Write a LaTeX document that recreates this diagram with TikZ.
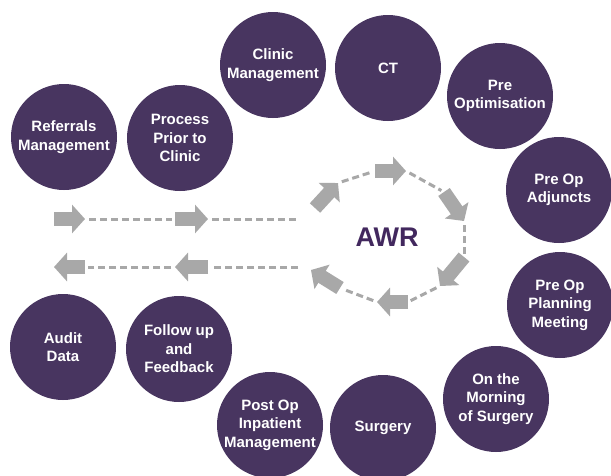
\documentclass[tikz,border=0pt]{standalone}
\usepackage{fontspec}
\setmainfont{Liberation Sans}
\usetikzlibrary{arrows.meta}
\definecolor{awrpurple}{RGB}{72,53,96}
\definecolor{awrtext}{RGB}{66,40,94}
\definecolor{arrowgrey}{RGB}{168,168,168}
\tikzset{
  stage/.style={circle, fill=awrpurple, minimum size=106pt, inner sep=0pt,
    text=white, align=center, font=\bfseries\fontsize{15}{18.5}\selectfont},
  blk/.style={arrowgrey, line width=14pt, -{Triangle[length=13pt,width=28pt]}},
  link/.style={arrowgrey, line width=3pt, dash pattern=on 7pt off 4pt,
    shorten <=4pt, shorten >=3pt}
}
\begin{document}
\begin{tikzpicture}[x=1pt,y=-1pt]
  \clip (0,0) rectangle (611,475);
  \fill[white] (0,0) rectangle (611,475);
  % Stationen
  \node[stage] (ref)    at (64,137)  {Referrals\\Management};
  \node[stage] (proc)   at (180,138) {Process\\Prior to\\Clinic};
  \node[stage] (clin)   at (273,65)  {Clinic\\Management};
  \node[stage] (ct)     at (388,68)  {CT};
  \node[stage] (preopt) at (500,96)  {Pre\\Optimisation};
  \node[stage] (adj)    at (559,190) {Pre Op\\Adjuncts};
  \node[stage] (plan)   at (560,305) {Pre Op\\Planning\\Meeting};
  \node[stage] (morn)   at (496,399) {On the\\Morning\\of Surgery};
  \node[stage] (surg)   at (383,428) {Surgery};
  \node[stage] (post)   at (270,425) {Post Op\\Inpatient\\Management};
  \node[stage] (follow) at (179,349) {Follow up\\and\\Feedback};
  \node[stage] (audit)  at (63,347)  {Audit\\Data};
  % AWR
  \node[text=awrtext, font=\bfseries\fontsize{27}{30}\selectfont] (awr) at (387,237) {AWR};
  % Pfeile hin
  \coordinate (t1) at (54,219);  \coordinate (h1) at (85,219);
  \coordinate (t2) at (175,219); \coordinate (h2) at (208,219);
  \coordinate (c1) at (302,219);
  \coordinate (t3) at (315,208); \coordinate (h3) at (338,183);
  \coordinate (t4) at (375,171); \coordinate (h4) at (406,171);
  \coordinate (t5) at (444,192); \coordinate (h5) at (464,221);
  \coordinate (t6) at (464,257); \coordinate (h6) at (440,286);
  \coordinate (t7) at (408,302); \coordinate (h7) at (377,302);
  \coordinate (t8) at (340,288); \coordinate (h8) at (311,270);
  % Pfeile zurueck
  \coordinate (c2) at (302,267);
  \coordinate (t9) at (208,267); \coordinate (h9) at (175,267);
  \coordinate (t10) at (85,267); \coordinate (h10) at (54,267);
  % Blockpfeile
  \draw[blk] (t1) -- (h1);
  \draw[blk] (t2) -- (h2);
  \draw[blk] (t3) -- (h3);
  \draw[blk] (t4) -- (h4);
  \draw[blk] (t5) -- (h5);
  \draw[blk] (t6) -- (h6);
  \draw[blk] (t7) -- (h7);
  \draw[blk] (t8) -- (h8);
  \draw[blk] (t9) -- (h9);
  \draw[blk] (t10) -- (h10);
  % gestrichelt
  \draw[link] (h1) -- (t2);
  \draw[link] (h2) -- (c1);
  \draw[link] (h3) -- (t4);
  \draw[link] (h4) -- (t5);
  \draw[link] (h5) -- (t6);
  \draw[link] (h6) -- (t7);
  \draw[link] (h7) -- (t8);
  \draw[link] (c2) -- (t9);
  \draw[link] (h9) -- (t10);
\end{tikzpicture}
\end{document}
